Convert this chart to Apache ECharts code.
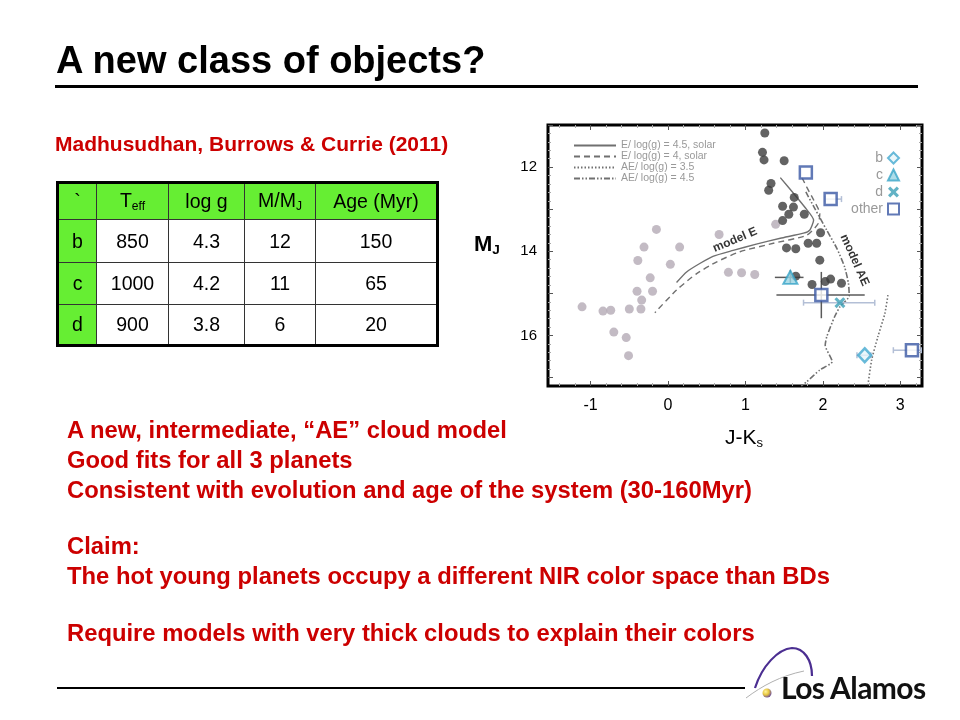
<!DOCTYPE html>
<html><head><meta charset="utf-8">
<script src="https://cdn.jsdelivr.net/npm/echarts@6/dist/echarts.min.js"></script>
<style>
html,body{margin:0;padding:0;background:#fff;}
#wrap{position:relative;width:960px;height:720px;overflow:hidden;font-family:"Liberation Sans",Arial,sans-serif;color:#000;}
#chart{position:absolute;left:0;top:0;width:960px;height:720px;}
.t{position:absolute;white-space:nowrap;z-index:5;}
.red{color:#cc0000;font-weight:bold;}
.bul{left:67px;font-size:23.8px;line-height:28px;}
table.tb{position:absolute;left:56px;top:181px;width:380px;height:165px;table-layout:fixed;border-collapse:collapse;z-index:5;border:3px solid #000;font-size:19.5px;}
table.tb td{border:1.5px solid #333;text-align:center;padding:0;}
table.tb tr.h td{background:#66ee33;}
table.tb td.g{background:#66ee33;}
sub{font-size:0.62em;vertical-align:-0.25em;}
</style></head>
<body>
<div id="wrap">
<div id="chart"></div>

<div class="t" style="left:56px;top:38px;font-size:38px;line-height:44px;font-weight:bold;">A new class of objects?</div>
<div class="t" style="left:55px;top:85px;width:863px;height:3px;background:#000;"></div>
<div class="t red" style="left:55px;top:132px;font-size:21px;line-height:24px;">Madhusudhan, Burrows &amp; Currie (2011)</div>

<table class="tb">
<colgroup><col style="width:39px"><col style="width:72px"><col style="width:76px"><col style="width:71px"><col style="width:122px"></colgroup>
<tr class="h" style="height:37px"><td>`</td><td>T<sub>eff</sub></td><td>log g</td><td>M/M<sub>J</sub></td><td>Age (Myr)</td></tr>
<tr style="height:43px"><td class="g">b</td><td>850</td><td>4.3</td><td>12</td><td>150</td></tr>
<tr style="height:42px"><td class="g">c</td><td>1000</td><td>4.2</td><td>11</td><td>65</td></tr>
<tr style="height:41px"><td class="g">d</td><td>900</td><td>3.8</td><td>6</td><td>20</td></tr>
</table>

<div class="t" style="left:474px;top:231px;font-size:22px;line-height:26px;font-weight:bold;">M<sub>J</sub></div>
<div class="t" style="left:725px;top:425px;font-size:21px;line-height:24px;">J-K<sub>s</sub></div>

<div class="t red bul" style="top:416px;">A new, intermediate, “AE” cloud model</div>
<div class="t red bul" style="top:446px;">Good fits for all 3 planets</div>
<div class="t red bul" style="top:476px;">Consistent with evolution and age of the system (30-160Myr)</div>
<div class="t red bul" style="top:532px;">Claim:</div>
<div class="t red bul" style="top:562px;">The hot young planets occupy a different NIR color space than BDs</div>
<div class="t red bul" style="top:619px;">Require models with very thick clouds to explain their colors</div>

<div class="t" style="left:57px;top:687px;width:688px;height:2px;background:#000;"></div>
<svg class="t" style="left:740px;top:640px;" width="200" height="70" viewBox="0 0 200 70">
  <defs><radialGradient id="dot" cx="0.35" cy="0.35" r="0.7"><stop offset="0" stop-color="#fff3a0"/><stop offset="0.5" stop-color="#e8c840"/><stop offset="1" stop-color="#6a4a9a"/></radialGradient></defs>
  <path d="M6,58 C22,46 40,36 64,31" stroke="#b0b0b0" stroke-width="1" fill="none"/>
  <path d="M15,48 C22,26 38,9 52,8 C64,8 72,20 72,36" stroke="#4b2e91" stroke-width="2.2" fill="none"/>
  <circle cx="27" cy="53" r="4.5" fill="url(#dot)"/>
</svg>
<div class="t" style="left:781px;top:670px;font-family:Lato,'Open Sans',sans-serif;font-weight:700;font-size:30px;line-height:34px;letter-spacing:-0.6px;color:#111;">Los Alamos</div>
</div>

<script>
// ---------------- data ----------------
const xTickValues = [-1, 0, 1, 2, 3];
const yTickValues = [12, 14, 16];
const yMajorTicks = [11, 12, 13, 14, 15, 16, 17];

// dark field brown dwarfs [J-Ks, MJ]
const fieldDark = [[1.25,11.19],[1.22,11.65],[1.24,11.83],[1.50,11.85],[1.33,12.39],[1.30,12.55],
  [1.63,12.72],[1.48,12.93],[1.62,12.95],[1.56,13.12],[1.76,13.12],[1.48,13.27],[1.97,13.56],
  [1.53,13.92],[1.65,13.94],[1.81,13.81],[1.92,13.81],[1.96,14.21],[1.65,14.59],[1.86,14.79],
  [2.03,14.72],[2.10,14.66],[2.24,14.76]];
// light grey objects
const fieldLight = [[-0.15,13.48],[0.66,13.60],[-0.31,13.90],[0.15,13.90],[-0.39,14.22],[0.03,14.31],
  [-0.23,14.63],[0.78,14.50],[0.95,14.51],[1.12,14.55],[-0.40,14.95],[-0.20,14.95],[-0.34,15.16],
  [-1.11,15.32],[-0.84,15.42],[-0.74,15.40],[-0.50,15.37],[-0.35,15.37],[-0.70,15.92],[-0.54,16.05],
  [-0.51,16.48],[1.39,13.36]];
const planetB = [[2.54,16.47]];
const planetC = [[1.58,14.62]];
const planetD = [[2.22,15.22]];
const otherObjs = [[1.78,12.13],[2.10,12.76],[1.98,15.04],[3.15,16.35]];

// model tracks
const modelE45 = [[1.45,12.25],[1.62,12.62],[1.77,12.96],[1.88,13.26],[1.83,13.50],[1.75,13.57],[1.45,13.69],
  [1.14,13.83],[0.84,13.98],[0.58,14.12],[0.41,14.29],[0.24,14.49],[0.11,14.74]];
const modelE4 = [[1.73,12.25],[1.79,12.47],[1.88,12.78],[1.96,13.10],[1.94,13.34],[1.79,13.62],[1.36,13.81],
  [0.93,14.01],[0.63,14.25],[0.37,14.53],[0.11,14.92],[-0.17,15.46]];
const modelAE35 = [[2.84,15.04],[2.80,15.48],[2.71,16.03],[2.63,16.58],[2.58,17.20]];
const modelAE45 = [[1.78,12.59],[1.90,13.00],[2.05,13.50],[2.18,13.93],[2.28,14.37],[2.33,14.76],[2.34,15.06],
  [2.22,15.32],[2.15,15.56],[2.05,16.03],[2.03,16.23],[2.12,16.62],[1.96,16.82],[1.79,17.10],[1.72,17.20]];

// error bars [x, y, xlo, xhi, ylo, yhi]
const errDark = [[1.98,15.04,1.40,2.54,14.49,15.59],[1.58,14.62,1.38,1.75,14.45,14.76]];
// horizontal only [x, y, xlo, xhi]
const errLight = [[2.22,15.22,1.75,2.67],[2.10,12.76,2.03,2.24],[3.15,16.35,2.91,3.27],[2.54,16.47,2.44,2.62]];

const modelLabels = [[0.865,13.73,'model E'],[2.41,14.21,'model AE']];
const legendLines = ['E/ log(g) = 4.5, solar','E/ log(g) = 4, solar','AE/ log(g) = 3.5','AE/ log(g) = 4.5'];
const legendMarks = ['b','c','d','other'];

// ---------------- chart ----------------
const xMin = -1.55, xMax = 3.28, yMin = 11, yMax = 17.2;
function steps(a, b, s, skip){ const out=[]; for(let v=a; v<=b+1e-9; v+=s){ const r=Math.round(v*10)/10; if(!skip.includes(r)) out.push(r);} return out; }
const xMinor = steps(-1.4, 3.2, 0.2, xTickValues);
const yMinor = steps(11.2, 17.0, 0.2, yMajorTicks);

const FONT = '"Liberation Sans", Arial, sans-serif';
function xAx(pos, ticks, len, col, labels){
  return {type:'value', position:pos, min:xMin, max:xMax, splitLine:{show:false}, axisLine:{show:false, onZero:false},
    axisTick:{show:true, inside:true, length:len, customValues:ticks, lineStyle:{color:col, width:1}},
    axisLabel: labels ? {show:true, customValues:labels, margin:12, fontSize:16, color:'#000', fontFamily:FONT} : {show:false}};
}
function yAx(pos, ticks, len, col, labels){
  return {type:'value', position:pos, inverse:true, min:yMin, max:yMax, splitLine:{show:false}, axisLine:{show:false, onZero:false},
    axisTick:{show:true, inside:true, length:len, customValues:ticks, lineStyle:{color:col, width:1}},
    axisLabel: labels ? {show:true, customValues:labels, margin:11, fontSize:15, color:'#000', fontFamily:FONT} : {show:false}};
}
function errRender(color, width, cap, vertical){
  return function(params, api){
    const y = api.value(1);
    const a = api.coord([api.value(2), y]), b = api.coord([api.value(3), y]);
    const st = {stroke:color, lineWidth:width};
    const ch = [{type:'line', shape:{x1:a[0],y1:a[1],x2:b[0],y2:b[1]}, style:st}];
    if (cap) {
      ch.push({type:'line', shape:{x1:a[0],y1:a[1]-cap,x2:a[0],y2:a[1]+cap}, style:st});
      ch.push({type:'line', shape:{x1:b[0],y1:b[1]-cap,x2:b[0],y2:b[1]+cap}, style:st});
    }
    if (vertical) {
      const x = api.value(0);
      const c = api.coord([x, api.value(4)]), d = api.coord([x, api.value(5)]);
      ch.push({type:'line', shape:{x1:c[0],y1:c[1],x2:d[0],y2:d[1]}, style:st});
    }
    return {type:'group', children:ch};
  };
}
function lineSeries(name, data, type, width){
  return {name, type:'line', data, showSymbol:false, symbol:'none', smooth:0.2, clip:true, silent:true, z:2,
    lineStyle:{color:'#707070', width, type}, itemStyle:{color:'#707070'}};
}
const XSYM = 'path://M2,0 L5,3 L8,0 L10,2 L7,5 L10,8 L8,10 L5,7 L2,10 L0,8 L3,5 L0,2 Z';

const chart = echarts.init(document.getElementById('chart'), null, {renderer:'canvas'});
chart.setOption({
  animation:false,
  backgroundColor:'transparent',
  grid:{left:548, top:125, width:374, height:261, show:true, borderColor:'#000', borderWidth:3, backgroundColor:'#fff'},
  xAxis:[xAx('bottom', xTickValues, 5, '#555', xTickValues), xAx('top', xTickValues, 5, '#555'),
         xAx('bottom', xMinor, 3, '#aaa'), xAx('top', xMinor, 3, '#aaa')],
  yAxis:[yAx('left', yMajorTicks, 5, '#555', yTickValues), yAx('right', yMajorTicks, 5, '#555'),
         yAx('left', yMinor, 3, '#aaa'), yAx('right', yMinor, 3, '#aaa')],
  legend:[
    {data:legendLines, orient:'vertical', left:568, top:135, itemWidth:42, itemHeight:5, itemGap:0, selectedMode:false,
     itemStyle:{opacity:0, borderWidth:0},
     textStyle:{fontSize:10.5, lineHeight:9.2, color:'#999', fontFamily:FONT}},
    {data:legendMarks, orient:'vertical', align:'right', right:55, top:146, itemWidth:11, itemHeight:11, itemGap:3, selectedMode:false,
     textStyle:{fontSize:14, color:'#999', fontFamily:FONT}}
  ],
  series:[
    lineSeries(legendLines[0], modelE45, 'solid', 1.4),
    lineSeries(legendLines[1], modelE4, [6,4], 1.4),
    lineSeries(legendLines[2], modelAE35, [1.5,2], 1.6),
    lineSeries(legendLines[3], modelAE45, [6,2,1.5,2,1.5,2], 1.6),
    {type:'scatter', data:fieldLight, symbol:'circle', symbolSize:9, silent:true, z:3, itemStyle:{color:'#b4aab5'}},
    {type:'scatter', data:fieldDark, symbol:'circle', symbolSize:9, silent:true, z:3, itemStyle:{color:'#3c3c3c'}},
    {type:'custom', data:errLight, renderItem:errRender('#b3bfd6', 1.5, 3, false), clip:true, silent:true, z:3, encode:{x:0,y:1}},
    {type:'custom', data:errDark, renderItem:errRender('#5a5a5a', 1.5, 0, true), clip:true, silent:true, z:3, encode:{x:0,y:1}},
    {name:'b', type:'scatter', data:planetB, symbol:'diamond', symbolSize:[13,14], silent:true, z:4,
     itemStyle:{color:'#e6f5fa', borderColor:'#44a9cf', borderWidth:2.5}},
    {name:'c', type:'scatter', data:planetC, symbol:'triangle', symbolSize:[14,13], silent:true, z:4,
     itemStyle:{color:'#9ad4e4', borderColor:'#3aa5c8', borderWidth:2}},
    {name:'d', type:'scatter', data:planetD, symbol:XSYM, symbolSize:11, silent:true, z:4,
     itemStyle:{color:'#3b9fb6'}},
    {name:'other', type:'scatter', data:otherObjs, symbol:'rect', symbolSize:12, silent:true, z:4,
     itemStyle:{color:'#ffffff', borderColor:'#3a58a4', borderWidth:2.5}},
    {type:'scatter', silent:true, z:5, symbolSize:0,
     data:modelLabels.map((d,i)=>({value:[d[0],d[1]], name:d[2], label:{rotate: i===0 ? 23 : -66}})),
     label:{show:true, position:'inside', formatter:'{b}', fontSize:12, fontWeight:'bold', color:'#000', fontFamily:FONT}}
  ]
});
</script>
</body></html>
